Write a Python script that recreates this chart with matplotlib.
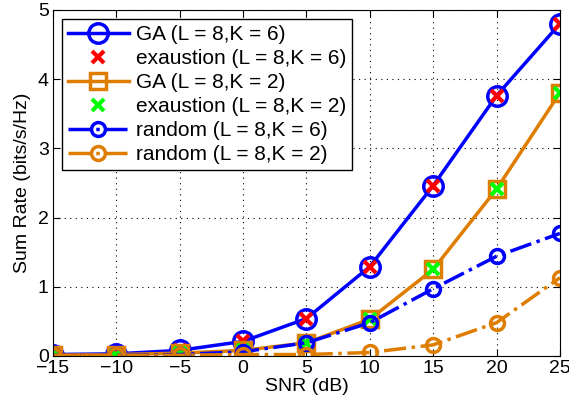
import numpy as np
import matplotlib
matplotlib.use('Agg')
import matplotlib.pyplot as plt

plt.rcParams['font.family'] = ['Liberation Sans', 'DejaVu Sans']

snr = [-15, -10, -5, 0, 5, 10, 15, 20, 25]

ga_k6 = [0.02, 0.03, 0.08, 0.21, 0.54, 1.29, 2.46, 3.76, 4.80]
ex_k6 = [0.02, 0.03, 0.08, 0.21, 0.54, 1.29, 2.46, 3.76, 4.80]
ga_k2 = [0.01, 0.02, 0.04, 0.08, 0.19, 0.53, 1.25, 2.41, 3.80]
ex_k2 = [0.01, 0.02, 0.04, 0.08, 0.19, 0.53, 1.25, 2.41, 3.80]
rnd_k6 = [0.01, 0.01, 0.02, 0.06, 0.19, 0.48, 0.97, 1.44, 1.77]
rnd_k2 = [0.01, 0.01, 0.01, 0.02, 0.02, 0.05, 0.16, 0.48, 1.13]

labels = ['GA (L = 8,K = 6)', 'exaustion (L = 8,K = 6)', 'GA (L = 8,K = 2)',
          'exaustion (L = 8,K = 2)', 'random (L = 8,K = 6)', 'random (L = 8,K = 2)']

orange = '#DE7D00'

fig = plt.figure(figsize=(5.69, 4.11), dpi=100)
ax = fig.add_axes([0.093, 0.134, 0.891, 0.842])

ax.plot(snr, ga_k6, color='blue', lw=2.5, marker='o', ms=14, mfc='none', mew=2.5, label=labels[0])
ax.plot(snr, ex_k6, color='red', ls='none', marker='x', ms=9, mew=3, label=labels[1])
ax.plot(snr, ga_k2, color=orange, lw=2.5, marker='s', ms=12, mfc='none', mew=2.5, label=labels[2])
ax.plot(snr, ex_k2, color='#00FF00', ls='none', marker='x', ms=9, mew=3, label=labels[3])
ax.plot(snr, rnd_k6, color='blue', lw=2.5, ls='-.', marker='o', ms=10, mfc='none', mew=2.5, label=labels[4])
ax.plot(snr, rnd_k2, color=orange, lw=2.5, ls='-.', marker='o', ms=10, mfc='none', mew=2.5, label=labels[5])

ax.set_xlim(-15, 25)
ax.set_ylim(0, 5)
ax.set_xticks(snr)
ax.set_yticks([0, 1, 2, 3, 4, 5])
ax.grid(True, color='black', ls=(0, (1, 4)), lw=0.8)
ax.tick_params(direction='in', top=True, right=True, labelsize=14, length=5, pad=3)
ax.set_xlabel('SNR (dB)', fontsize=14, labelpad=1)
ax.set_ylabel('Sum Rate (bits/s/Hz)', fontsize=14, labelpad=5)

leg = ax.legend(loc='upper left', fontsize=15, fancybox=False, framealpha=1,
                edgecolor='black', handlelength=2.9, borderaxespad=0.45,
                labelspacing=0.24, borderpad=0.28, handletextpad=0.35)
leg.get_frame().set_linewidth(1.0)

fig.savefig('out.png', dpi=100)
